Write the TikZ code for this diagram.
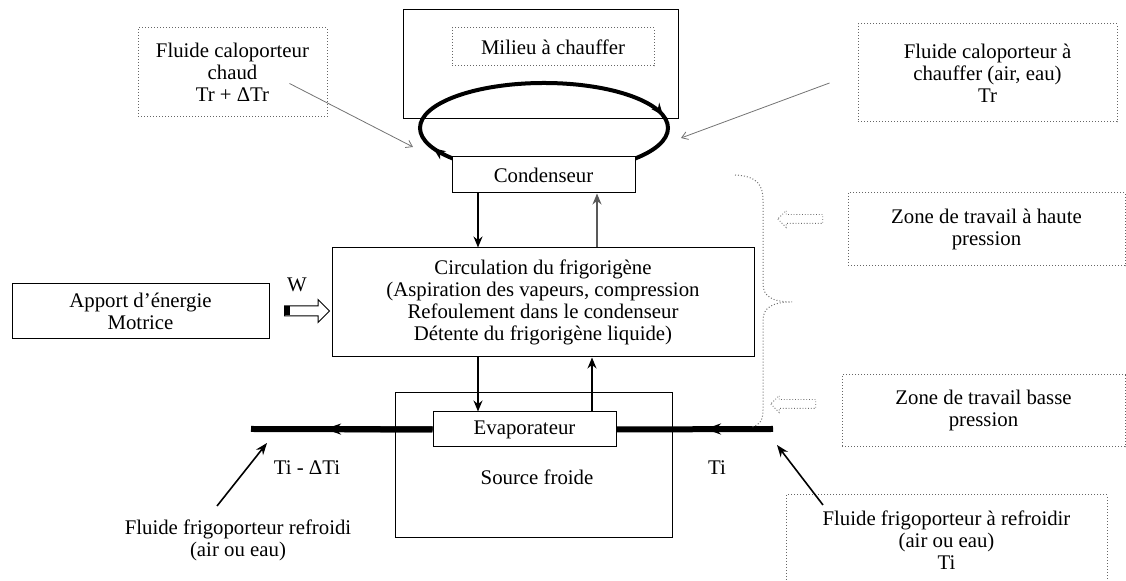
\documentclass[tikz,border=0pt]{standalone}
\usepackage{fontspec}
\setmainfont{Liberation Serif}
\usetikzlibrary{arrows.meta, positioning, calc, shapes.arrows, decorations.markings}
\tikzset{
    base/.style={
        draw,
        line width=0.5pt,
        align=center,
        inner sep=0pt
    },
    block/.style={base, fill=white},
    note/.style={base, draw=black!60, densely dotted},
    flow/.style={-{Stealth[length=5.5pt,width=4.5pt]}, line width=0.7pt},
    pointer/.style={-{Straight Barb[length=3pt,width=4pt]}, draw=black!55, line width=0.4pt},
    feed/.style={-{Stealth[length=6pt,width=4.5pt]}, line width=0.8pt},
    fluid/.style={line width=3pt},
    brace/.style={draw=black!55, densely dotted, line width=0.5pt},
    hollow/.style={single arrow, draw=black!60, densely dotted, line width=0.4pt,
        inner xsep=0pt, inner ysep=2pt, minimum height=22.5pt,
        single arrow head extend=2pt, shape border rotate=180},
    push/.style={single arrow, draw, line width=0.5pt, inner xsep=0pt, inner ysep=2.25pt,
        minimum height=22.5pt, single arrow head extend=3.25pt},
    loopline/.style={line width=2pt, postaction={decorate, decoration={markings,
        mark=at position 0.455 with {\arrow{Stealth[length=6pt,width=5pt]}},
        mark=at position 0.975 with {\arrow{Stealth[length=6pt,width=5pt]}}}}}
}

\begin{document}
\begin{tikzpicture}[x=0.5pt, y=-0.5pt, font=\fontsize{10.4}{11}\selectfont]
        \useasboundingbox (0,0) rectangle (1126,581);

        % hot side
        \node[block, minimum width=137.5pt, minimum height=54.5pt] (milieu) at (540.5,64.5) {};
        \node[note, minimum width=101pt, minimum height=19pt] (milieuin) at (553,47) {Milieu à chauffer};
        \draw[loopline] (544,128) ellipse [x radius=124, y radius=45];
        \node[block, minimum width=91.5pt, minimum height=18pt] (cond) at (543.5,175) {Condenseur};

        \node[note, minimum width=94.5pt, minimum height=44.5pt] (chaud) at (232.5,72.5) {Fluide caloporteur\\chaud\\Tr + ΔTr};
        \node[note, minimum width=129.5pt, minimum height=49pt] (chauffer) at (987.5,73) {Fluide caloporteur à\\chauffer (air, eau)\\Tr};
        \coordinate (eL) at (413,147);
        \coordinate (eR) at (681,138);
        \draw[pointer] ($(chaud.center)+(57,11)$) -- (eL);
        \draw[pointer] ($(chauffer.west)+(-28,10)$) -- (eR);

        % refrigerant circuit
        \node[block, minimum width=211pt, minimum height=54.5pt] (circ) at (543,302.5) {Circulation du frigorigène\\(Aspiration des vapeurs, compression\\Refoulement dans le condenseur\\Détente du frigorigène liquide)};
        \coordinate (xa) at (478,0);
        \coordinate (xb) at (592,0);
        \coordinate (xc) at (597,0);
        \draw[flow] (cond.south -| xa) -- (circ.north -| xa);
        \draw[flow, draw=black!65] (circ.north -| xc) -- (cond.south -| xc);

        \node[block, minimum width=128.5pt, minimum height=27.5pt] (apport) at (140.5,311.5) {Apport d’énergie\\Motrice};
        \node[push] (wpush) at (304.5,311) {};
        \fill ($(wpush.tail)+(0,-4.5)$) rectangle ++(6,9);
        \node (wlabel) at (297,285) {W};

        % cold side
        \node[base, minimum width=138.5pt, minimum height=72.5pt] (source) at (533.5,465.5) {};
        \node (sourcetxt) at (537,477) {Source froide};
        \node[block, minimum width=91.5pt, minimum height=17.5pt] (evap) at (524.5,429.5) {Evaporateur};
        \coordinate (fout) at (251,429);
        \coordinate (fin) at (773,429);
        \coordinate (arrL) at (325,429);
        \coordinate (arrR) at (705,429);
        \draw[fluid] (evap.west) -- (fout);
        \draw[fluid, -{Stealth[length=8pt,width=5.5pt]}] (evap.west) -- (arrL);
        \draw[fluid] (fin) -- (evap.east);
        \draw[fluid, -{Stealth[length=8pt,width=5.5pt]}] (fin) -- (arrR);
        \draw[flow] (circ.south -| xa) -- (evap.north -| xa);
        \draw[flow] (evap.north -| xb) -- (circ.south -| xb);

        \node (tlow) at (307,468) {Ti - ΔTi};
        \node (thigh) at (717,468) {Ti};
        \node[align=center] (refroidi) at (238,540) {Fluide frigoporteur refroidi\\(air ou eau)};
        \node[note, minimum width=160.5pt, minimum height=45pt] (refroidir) at (946.5,540) {Fluide frigoporteur à refroidir\\(air ou eau)\\Ti};
        \coordinate (fL) at (267,443);
        \coordinate (fR) at (777,445);
        \draw[feed] ($(refroidi.center)+(-21,-34)$) -- (fL);
        \draw[feed] ($(refroidir.center)+(-123.5,-35)$) -- (fR);

        % pressure zones
        \draw[brace] (735,175) .. controls (758,176) and (763,186) .. (763,200) -- (763,284)
            .. controls (763,296) and (772,302) .. (792,302)
            .. controls (772,302) and (763,308) .. (763,320) -- (763,410)
            .. controls (763,420) and (760,425) .. (752,427);
        \node[hollow] (hhigh) at (802.5,219) {};
        \node[hollow] (hlow) at (795.5,404) {};
        \node[note, minimum width=138.5pt, minimum height=36.5pt] (haute) at (986.5,229.5) {Zone de travail à haute\\pression};
        \node[note, minimum width=141.5pt, minimum height=36pt] (basse) at (983.5,411) {Zone de travail basse\\pression};

\end{tikzpicture}
\end{document}
